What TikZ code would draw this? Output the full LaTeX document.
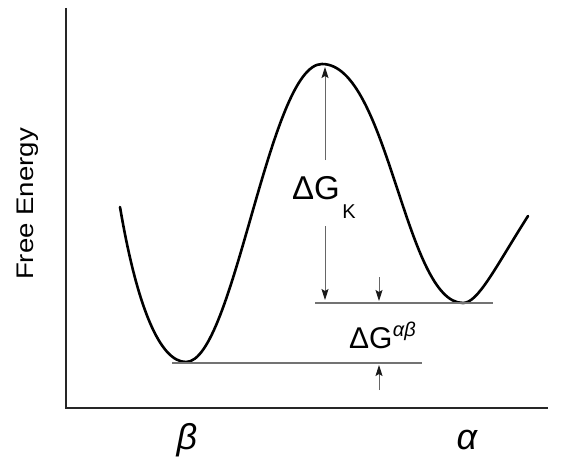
\documentclass[tikz,border=0pt]{standalone}
\usepackage{fontspec}
\setmainfont{Liberation Sans}
\usetikzlibrary{arrows.meta}
\tikzset{
  curve/.style={line width=2.6pt,black},
  axis/.style={line width=1.6pt,black!85},
  level/.style={line width=1.3pt,black!55},
  dim/.style={line width=0.9pt,black!60,-{Stealth[length=11pt,width=7pt,inset=2pt,color=black!90]}},
  big/.style={inner sep=0pt,font=\fontsize{33}{33}\selectfont},
  greek/.style={inner sep=0pt,font=\fontsize{36}{36}\selectfont\itshape},
}
\begin{document}
\begin{tikzpicture}[x=1pt,y=-1pt]
\useasboundingbox (0,0) rectangle (567,460);
% axes
\coordinate (ytop) at (66,8);
\coordinate (orig) at (66,408);
\coordinate (xend) at (548,408);
\draw[axis] (ytop) -- (orig) -- (xend);
\node[rotate=90,inner sep=0pt,font=\fontsize{24}{24}\selectfont] (ylab) at (28,204) {\scalebox{1.15}[1]{Free Energy}};
% curve
\coordinate (c0) at (120,207);
\coordinate (mb) at (186,362);
\coordinate (pk) at (322,64);
\coordinate (ma) at (463,303);
\coordinate (c1) at (528,216);
\draw[curve,line cap=round] (c0) .. controls (137,307) and (160,362) .. (mb)
  .. controls (234,362) and (269,64) .. (pk)
  .. controls (388,64) and (405,303) .. (ma)
  .. controls (478,303) and (495,268) .. (c1);
% levels
\coordinate (lb0) at (172,363);
\coordinate (lb1) at (422,363);
\coordinate (la0) at (315,303);
\coordinate (la1) at (493,303);
\draw[level] (lb0) -- (lb1);
\draw[level] (la0) -- (la1);
% Delta G_K arrows
\coordinate (k1) at (325,160);
\coordinate (k1t) at (325,67);
\coordinate (k2) at (325,226);
\coordinate (k2t) at (325,300);
\draw[dim] (k1) -- (k1t);
\draw[dim] (k2) -- (k2t);
% Delta G^ab arrows
\coordinate (s1) at (379,277);
\coordinate (s1t) at (379,301);
\coordinate (s2) at (379,390);
\coordinate (s2t) at (379,365);
\draw[dim] (s1) -- (s1t);
\draw[dim] (s2) -- (s2t);
% labels
\node[big,anchor=base west] (gk) at (292,199) {ΔG};
\node[inner sep=0pt,anchor=base west,font=\fontsize{20}{20}\selectfont] (gksub) at (gk.base east) [yshift=-19pt,xshift=2pt] {K};
\node[big,anchor=base west,font=\fontsize{30}{30}\selectfont] (gab) at (349,348) {ΔG};
\node[inner sep=0pt,anchor=base west,font=\fontsize{20}{20}\selectfont\itshape] (gabsup) at (gab.base east) [yshift=12pt] {αβ};
\node[greek,anchor=base] (beta) at (187,449) {β};
\node[greek,anchor=base] (alpha) at (467,449) {α};
\end{tikzpicture}
\end{document}
